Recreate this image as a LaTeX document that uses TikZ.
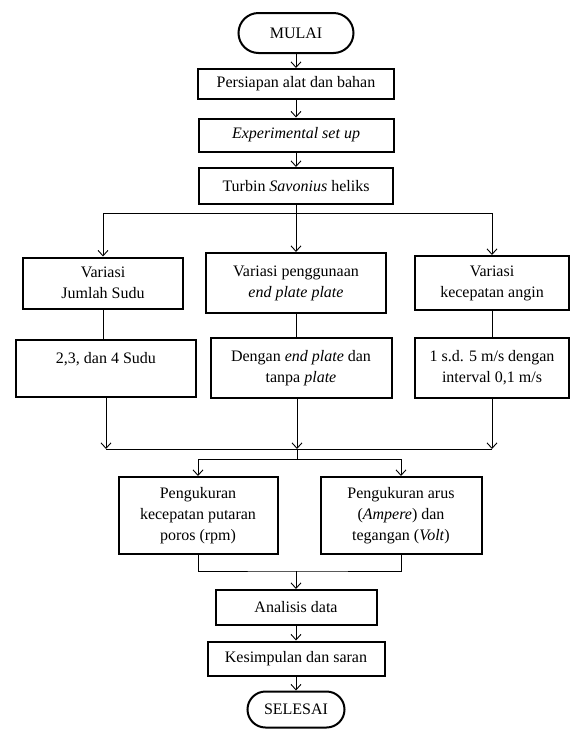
\documentclass[tikz,border=0pt]{standalone}
\usepackage{fontspec}
\setmainfont{Liberation Serif}
\usetikzlibrary{shapes.misc, arrows.meta}
\tikzstyle{startstop} = [rounded rectangle, draw=black, line width=2pt, inner sep=2pt, text centered]
\tikzstyle{process} = [rectangle, draw=black, line width=2pt, inner sep=2pt, align=center]
\tikzstyle{arrow} = [line width=0.9pt, -{Straight Barb[length=5.5pt,width=10pt]}]
\tikzstyle{connector} = [line width=0.9pt]

\begin{document}
\begin{tikzpicture}[x=1pt, y=-1pt, node distance=51pt, font=\fontsize{16}{21}\selectfont]
	\useasboundingbox (0,0) rectangle (570,729);

	\node (mulai) [startstop, minimum width=119pt, minimum height=40pt] at (296,33) {MULAI};
	\node (pro1) [process, below of=mulai, minimum width=196pt, minimum height=30pt] {Persiapan alat dan bahan};
	\node (pro2) [process, below of=pro1, minimum width=195pt, minimum height=33pt] {\textit{Experimental set up}};
	\node (pro3) [process, below of=pro2, minimum width=194pt, minimum height=36pt] {Turbin \textit{Savonius} heliks};
	\coordinate [below of=pro3, yshift=24pt] (cab1);

	\node (var2) [process, below of=pro3, yshift=-46pt, minimum width=180pt, minimum height=60pt] {Variasi penggunaan\\\textit{end plate plate}};
	\node (var1) [process, left of=var2, xshift=-142pt, minimum width=160pt, minimum height=51pt] {Variasi\\Jumlah Sudu};
	\node (var3) [process, right of=var2, xshift=145pt, minimum width=154pt, minimum height=54pt] {Variasi\\kecepatan angin};

	\node (det1) [process, below of=var1, xshift=3pt, yshift=-34pt, minimum width=180pt, minimum height=57pt] {2,3, dan 4 Sudu\\\mbox{}};
	\node (det2) [process, below of=var2, xshift=5pt, yshift=-34pt, minimum width=181pt, minimum height=60pt] {Dengan \textit{end plate} dan\\tanpa \textit{plate}};
	\node (det3) [process, below of=var3, yshift=-34pt, minimum width=154pt, minimum height=60pt] {1 s.d. 5 m/s dengan\\interval 0,1 m/s};
	\coordinate [below of=det2, xshift=-4pt, yshift=-30pt] (gab1);
	\coordinate [below of=gab1, yshift=41pt] (cab2);

	\node (ukur1) [process, below of=gab1, xshift=-99pt, yshift=-15.5pt, minimum width=159pt, minimum height=77pt] {Pengukuran\\kecepatan putaran\\poros (rpm)};
	\node (ukur2) [process, right of=ukur1, xshift=152pt, minimum width=161pt, minimum height=77pt] {Pengukuran arus\\(\textit{Ampere}) dan\\tegangan (\textit{Volt})};

	\node (analisis) [process, below of=ukur1, xshift=98pt, yshift=-41pt, minimum width=161pt, minimum height=35pt] {Analisis data};
	\coordinate [above of=analisis, yshift=-14.5pt] (gab2);
	\node (kesimpulan) [process, below of=analisis, minimum width=177pt, minimum height=34pt] {Kesimpulan dan saran};
	\node (selesai) [startstop, below of=kesimpulan, minimum width=101pt, minimum height=36pt] {SELESAI};

	\draw [arrow] (mulai) -- (pro1);
	\draw [arrow] (pro1) -- (pro2);
	\draw [arrow] (pro2) -- (pro3);
	\draw [arrow] (pro3) -- (var2);
	\draw [arrow] (cab1) -| (var1);
	\draw [arrow] (cab1) -| (var3);
	\draw [connector] (var1) -- (var1 |- det1.north);
	\draw [connector] (var2) -- (var2 |- det2.north);
	\draw [connector] (var3) -- (det3);
	\draw [arrow] (det1) -- (det1 |- gab1);
	\draw [arrow] (det2.south -| gab1) -- (gab1);
	\draw [arrow] (det3) -- (det3 |- gab1);
	\draw [connector] (det1 |- gab1) -- (det3 |- gab1);
	\draw [connector] (gab1) -- (cab2);
	\draw [arrow] (cab2) -| (ukur1);
	\draw [arrow] (cab2) -| (ukur2);
	\draw [connector] (ukur1) |- (gab2) -| (ukur2);
	\draw [arrow] (gab2) -- (analisis);
	\draw [arrow] (analisis) -- (kesimpulan);
	\draw [arrow] (kesimpulan) -- (selesai);

\end{tikzpicture}
\end{document}
